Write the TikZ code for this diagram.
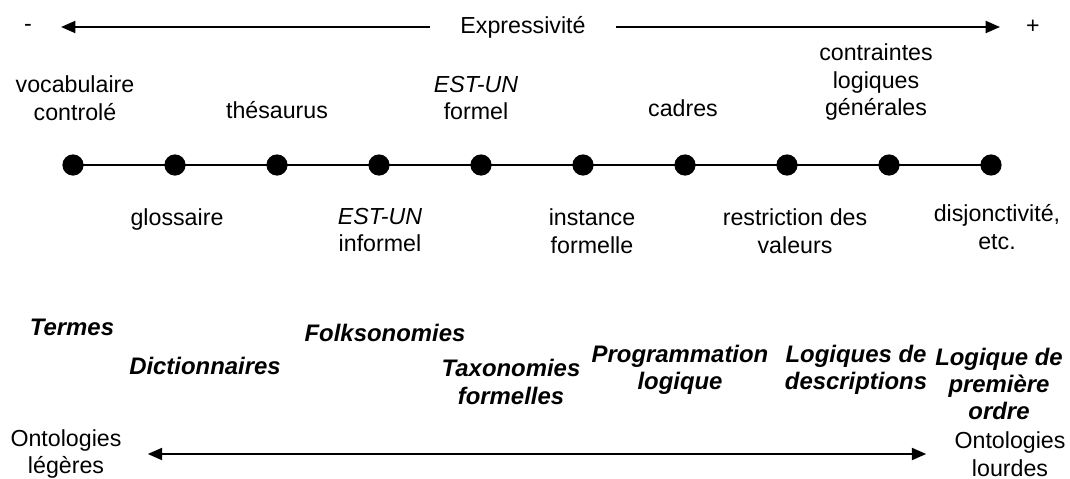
\documentclass[tikz,border=0pt]{standalone}
\usepackage{fontspec}
\setmainfont{Liberation Sans}
\usetikzlibrary{arrows.meta}
\begin{document}
\begin{tikzpicture}[x=0.025cm,y=-0.025cm,font=\fontsize{16.5}{19.5}\selectfont,
  axisline/.style={line width=1.5pt,-{Triangle[length=0.36cm,width=0.3cm]}},
  bothline/.style={line width=1.5pt,{Triangle[length=0.36cm,width=0.3cm]}-{Triangle[length=0.36cm,width=0.3cm]}},
  stopdot/.style={circle,fill=black,inner sep=0pt,minimum size=0.53cm},
  lbl/.style={align=center,inner sep=0pt},
  kind/.style={lbl,font=\fontsize{17}{19.5}\selectfont\bfseries\itshape}]
  \useasboundingbox (0,0) rectangle (1070,479);

  % expressivity axis
  \node[inner sep=0pt] (minus) at (28,28) {-};
  \node[inner sep=0pt] (plus) at (1033,27) {+};
  \node[inner ysep=0pt,inner xsep=0.75cm] (expr) at (523,27) {Expressivit\'e};
  \coordinate (lo) at (61,27);
  \coordinate (hi) at (1000,27);
  \draw[axisline] (expr.west) -- (lo);
  \draw[axisline] (expr.east) -- (hi);

  % steps along the line
  \foreach \i in {0,...,9}
    \node[stopdot] (d\i) at ({73+102*\i},165) {};
  \draw[line width=1.7pt] (d0.center) -- (d9.center);

  % above the line
  \node[lbl] (vocab) at (75,98) {vocabulaire\\controlé};
  \node[lbl] (thes) at (277,110) {thésaurus};
  \node[lbl] (isaf) at (476,98) {\textit{EST-UN}\\formel};
  \node[lbl] (frames) at (683,108) {cadres};
  \node[lbl] (constr) at (876,82) {contraintes\\logiques\\générales};

  % below the line
  \node[lbl] (gloss) at (177,219) {glossaire};
  \node[lbl] (isai) at (380,230) {\textit{EST-UN}\\informel};
  \node[lbl] (inst) at (592,231) {instance\\formelle};
  \node[lbl] (restr) at (795,231) {restriction des\\valeurs};
  \node[lbl] (disj) at (997,227) {disjonctivité,\\etc.};

  % families of ontologies
  \node[kind] (terms) at (72,327) {Termes};
  \node[kind] (dict) at (205,366) {Dictionnaires};
  \node[kind] (folk) at (385,333) {Folksonomies};
  \node[kind] (taxo) at (511,382) {Taxonomies\\formelles};
  \node[kind] (prog) at (680,370) {Programmation\\logique};
  \node[kind] (desc) at (856,370) {Logiques de\\descriptions};
  \node[kind] (fol) at (999,384) {Logique de\\première\\ordre};

  % light vs heavy
  \node[lbl] (light) at (66,454) {Ontologies\\légères};
  \node[lbl] (heavy) at (1010,454) {Ontologies\\lourdes};
  \draw[bothline] ([xshift=0.65cm]light.east) -- ([xshift=-0.7cm]heavy.west);
\end{tikzpicture}
\end{document}
